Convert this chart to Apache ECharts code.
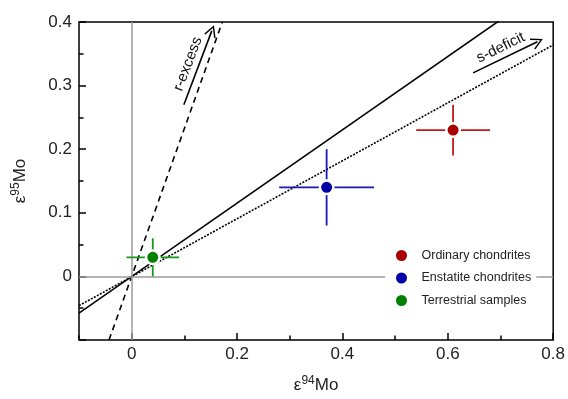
<!DOCTYPE html>
<html>
<head>
<meta charset="utf-8">
<script src="https://cdn.jsdelivr.net/npm/echarts@6/dist/echarts.min.js"></script>
<style>html,body{margin:0;padding:0;background:#fff}#chart{width:568px;height:399px}</style>
</head>
<body>
<div id="chart"></div>
<script>
var chartDom = document.getElementById('chart');
var myChart = echarts.init(chartDom);

const groups = ['Ordinary chondrites', 'Enstatite chondrites', 'Terrestrial samples'];
const x94 = [0.61, 0.37, 0.04];
const y95 = [0.23, 0.14, 0.03];
const x94Err = [0.07, 0.09, 0.05];
const y95Err = [0.04, 0.06, 0.03];
const colors = ['#a80000', '#0000a8', '#008000'];
const barColors = ['#c41818', '#1818b8', '#189818'];

const xTicks = [0, 0.2, 0.4, 0.6, 0.8];
const xMinorTicks = [-0.1, 0.1, 0.3, 0.5, 0.7];

// reference lines, end points
const solidLine = [[-0.1, -0.0576], [0.8, 0.461]];
const dashedLine = [[-0.043, -0.1], [0.172, 0.4]];
const dottedLine = [[-0.1, -0.046], [0.8, 0.364]];

// annotation arrows
const rArrow = [[0.099, 0.270], [0.152, 0.386]];
const sArrow = [[0.648, 0.320], [0.770, 0.369]];

const font = 'Liberation Sans, Arial, sans-serif';
const chevron = 'path://M0,0 L6,10 L4.8,10.9 L0,2.6 L-4.8,10.9 L-6,10 Z';

function refLine(data, type, width) {
    return {
        type: 'line',
        data: data,
        symbol: 'none',
        silent: true,
        z: 2,
        lineStyle: { color: '#000', width: width, type: type }
    };
}

let option = {
    animation: false,
    grid: {
        left: 79, right: 13, top: 22, bottom: 58,
        show: true, borderColor: '#000', borderWidth: 1.5
    },
    legend: {
        data: groups,
        orient: 'vertical',
        left: 385,
        top: 240,
        z: 20,
        icon: 'circle',
        itemWidth: 30,
        itemHeight: 11,
        itemGap: 9.5,
        padding: [9, 5, 9, 11],
        backgroundColor: '#fff',
        itemStyle: { borderWidth: 0 },
        textStyle: { fontSize: 12.5, fontFamily: font, color: '#222' }
    },
    xAxis: [
        {
            type: 'value',
            min: -0.1,
            max: 0.8,
            position: 'bottom',
            axisLine: { show: false, onZero: false },
            splitLine: { show: false },
            axisTick: {
                show: true, inside: true, length: 7,
                customValues: xTicks,
                lineStyle: { color: '#000', width: 1.5 }
            },
            axisLabel: {
                customValues: xTicks,
                margin: 6,
                fontSize: 17,
                fontFamily: font,
                color: '#222',
                formatter: function (v) { return v === 0 ? '0' : v.toFixed(1); }
            },
            name: '{a|ε}{s|94}{a|Mo}',
            nameLocation: 'middle',
            nameGap: 35,
            nameTextStyle: {
                rich: {
                    a: { fontSize: 17, fontFamily: font, color: '#222' },
                    s: { fontSize: 12, fontFamily: font, color: '#222', padding: [0, 0, 9, 0] }
                }
            }
        },
        {
            type: 'value',
            min: -0.1,
            max: 0.8,
            position: 'bottom',
            axisLine: { show: false, onZero: false },
            splitLine: { show: false },
            axisTick: {
                show: true, inside: true, length: 4.5,
                customValues: xMinorTicks,
                lineStyle: { color: '#000', width: 1.5 }
            },
            axisLabel: { show: false }
        }
    ],
    yAxis: {
        type: 'value',
        min: -0.1,
        max: 0.4,
        interval: 0.1,
        axisLine: { show: false, onZero: false },
        splitLine: { show: false },
        axisTick: { show: true, inside: true, length: 7, lineStyle: { color: '#000', width: 1.5 } },
        minorTick: { show: true, splitNumber: 2, length: 4.5, lineStyle: { color: '#000', width: 1.5 } },
        axisLabel: {
            margin: 7,
            fontSize: 17,
            fontFamily: font,
            color: '#222',
            formatter: function (v) {
                if (v < -0.05) return '';
                return Math.abs(v) < 1e-9 ? '0' : v.toFixed(1);
            }
        },
        name: '{a|ε}{s|95}{a|Mo}',
        nameLocation: 'middle',
        nameGap: 48,
        nameRotate: 90,
        nameTextStyle: {
            rich: {
                a: { fontSize: 17, fontFamily: font, color: '#222' },
                s: { fontSize: 12, fontFamily: font, color: '#222', padding: [0, 0, 9, 0] }
            }
        }
    },
    series: [
        {
            // zero lines
            type: 'line',
            data: [],
            silent: true,
            z: 1,
            markLine: {
                silent: true,
                symbol: 'none',
                label: { show: false },
                lineStyle: { color: '#9a9a9a', width: 1.5, type: 'solid' },
                data: [{ xAxis: 0 }, { yAxis: 0 }]
            }
        },
        refLine(solidLine, 'solid', 1.6),
        refLine(dashedLine, [6, 4.5], 1.6),
        refLine(dottedLine, [2, 1.4], 1.6),
        {
            // annotation arrows
            type: 'line',
            data: [],
            silent: true,
            z: 2,
            markLine: {
                silent: true,
                symbol: ['none', chevron],
                symbolSize: [12, 12],
                lineStyle: { color: '#000', width: 1.6, type: 'solid' },
                label: {
                    show: true,
                    position: 'insideMiddleTop',
                    formatter: '{b}',
                    distance: 3,
                    fontSize: 15,
                    fontFamily: font,
                    color: '#111'
                },
                data: [
                    [{ name: 'r-excess', coord: rArrow[0] }, { coord: rArrow[1] }],
                    [{ name: 's-deficit', coord: sArrow[0] }, { coord: sArrow[1] }]
                ]
            }
        },
        {
            // error bars
            type: 'custom',
            silent: true,
            z: 5,
            data: groups.map(function (g, i) { return [x94[i], y95[i], x94Err[i], y95Err[i], i]; }),
            encode: { x: 0, y: 1 },
            renderItem: function (params, api) {
                const x = api.value(0), y = api.value(1), ex = api.value(2), ey = api.value(3);
                const st = { stroke: barColors[api.value(4)], lineWidth: 1.8, lineDash: null };
                const l = api.coord([x - ex, y]), r = api.coord([x + ex, y]);
                const t = api.coord([x, y + ey]), b = api.coord([x, y - ey]);
                return {
                    type: 'group',
                    children: [
                        { type: 'line', shape: { x1: l[0], y1: l[1], x2: r[0], y2: r[1] }, style: st },
                        { type: 'line', shape: { x1: t[0], y1: t[1], x2: b[0], y2: b[1] }, style: st }
                    ]
                };
            }
        }
    ].concat(groups.map(function (g, i) {
        return {
            type: 'scatter',
            name: g,
            data: [[x94[i], y95[i]]],
            symbolSize: 13.5,
            z: 6,
            itemStyle: { color: colors[i], borderColor: '#fff', borderWidth: 2.5, opacity: 1 }
        };
    }))
};

option && myChart.setOption(option);
</script>
</body>
</html>
